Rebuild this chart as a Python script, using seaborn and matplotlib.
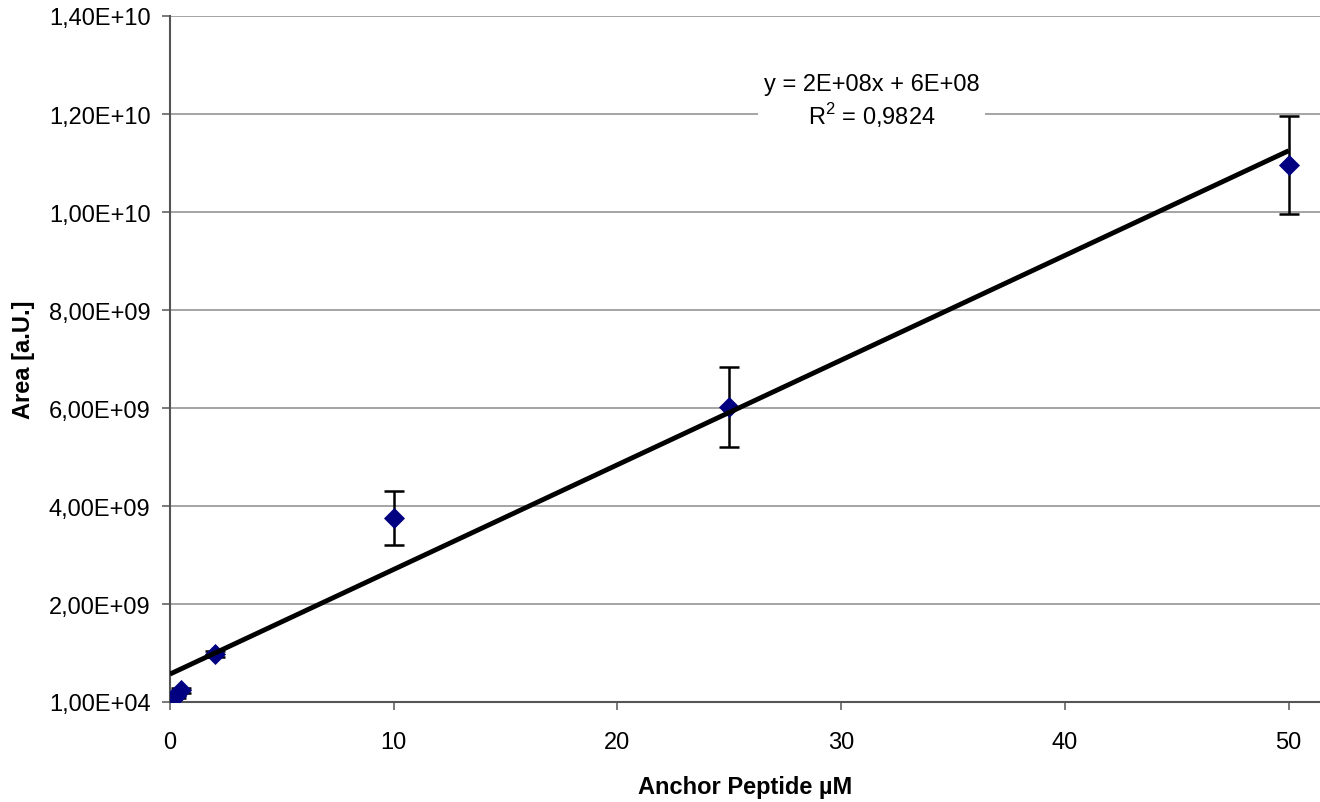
import matplotlib
matplotlib.use("Agg")
import matplotlib.pyplot as plt
import seaborn as sns
import numpy as np
import pandas as pd
from matplotlib.ticker import FuncFormatter, FixedLocator

# ---- data ----
conc_uM = [0, 0.1, 0.25, 0.5, 2, 10, 25, 50]
area_au = [0.02e9, 0.06e9, 0.12e9, 0.24e9, 0.98e9, 3.755e9, 6.02e9, 10.965e9]
area_err = [0.03e9, 0.03e9, 0.04e9, 0.05e9, 0.06e9, 0.555e9, 0.81e9, 1.0e9]

trend_slope = 0.2136e9
trend_intercept = 0.57e9
trend_x = [0, 50]
equation_text = "y = 2E+08x + 6E+08\nR$^2$ = 0,9824"

x_ticks = [0, 10, 20, 30, 40, 50]
y_ticks = [1e4, 2e9, 4e9, 6e9, 8e9, 10e9, 12e9, 14e9]

df = pd.DataFrame({"conc": conc_uM, "area": area_au, "err": area_err})
trend_df = pd.DataFrame({"x": trend_x,
                         "y": [trend_slope * v + trend_intercept for v in trend_x]})

sns.set_theme(style="white")
plt.rcParams["font.family"] = ["Liberation Sans", "DejaVu Sans"]
plt.rcParams["text.color"] = "black"
plt.rcParams["axes.labelcolor"] = "black"
plt.rcParams["mathtext.fontset"] = "custom"
plt.rcParams["mathtext.rm"] = "Liberation Sans"

fig = plt.figure(figsize=(13.2, 8.03), dpi=100)
ax = fig.add_axes([170 / 1320, 1 - 703 / 803, 1 - 170 / 1320, (703 - 17) / 803])

# grid lines
for yt in y_ticks:
    ax.axhline(yt, color="#8c8c8c", lw=1.1, zorder=0.5)

ax.errorbar(df["conc"], df["area"], yerr=df["err"], fmt="none",
            ecolor="black", elinewidth=1.8, capsize=7, capthick=1.8, zorder=2)
sns.scatterplot(data=df, x="conc", y="area", marker="D", s=115,
                color="#000080", edgecolor="#000080", linewidth=0, ax=ax, zorder=3)
sns.lineplot(data=trend_df, x="x", y="y", color="black", lw=3.5, ax=ax,
             zorder=4, solid_capstyle="butt")

ax.set_xlim(0, 51.4)
ax.set_ylim(1e4, 1.4e10)
ax.xaxis.set_major_locator(FixedLocator(x_ticks))
ax.yaxis.set_major_locator(FixedLocator(y_ticks))
ax.yaxis.set_major_formatter(FuncFormatter(lambda v, p: ("%.2E" % v).replace(".", ",")))
ax.xaxis.set_major_formatter(FuncFormatter(lambda v, p: "%d" % round(v)))

for side in ["top", "right"]:
    ax.spines[side].set_visible(False)
for side in ["left", "bottom"]:
    ax.spines[side].set_color("#555555")
    ax.spines[side].set_linewidth(1.5)

ax.tick_params(axis="both", which="major", direction="out", length=6, width=1.1,
               color="#555555", labelsize=17, labelcolor="black", pad=8,
               left=True, bottom=True)
ax.tick_params(axis="x", pad=15)

ax.set_xlabel("Anchor Peptide µM", fontsize=17, fontweight="bold", labelpad=16)
ax.set_ylabel("Area [a.U.]", fontsize=17, fontweight="bold", labelpad=10)

ax.text(31.37, 12.27e9, equation_text, ha="center", va="center", fontsize=17,
        linespacing=1.2, zorder=5,
        bbox=dict(facecolor="white", edgecolor="none", pad=4))

fig.savefig("out.png", dpi=100)
